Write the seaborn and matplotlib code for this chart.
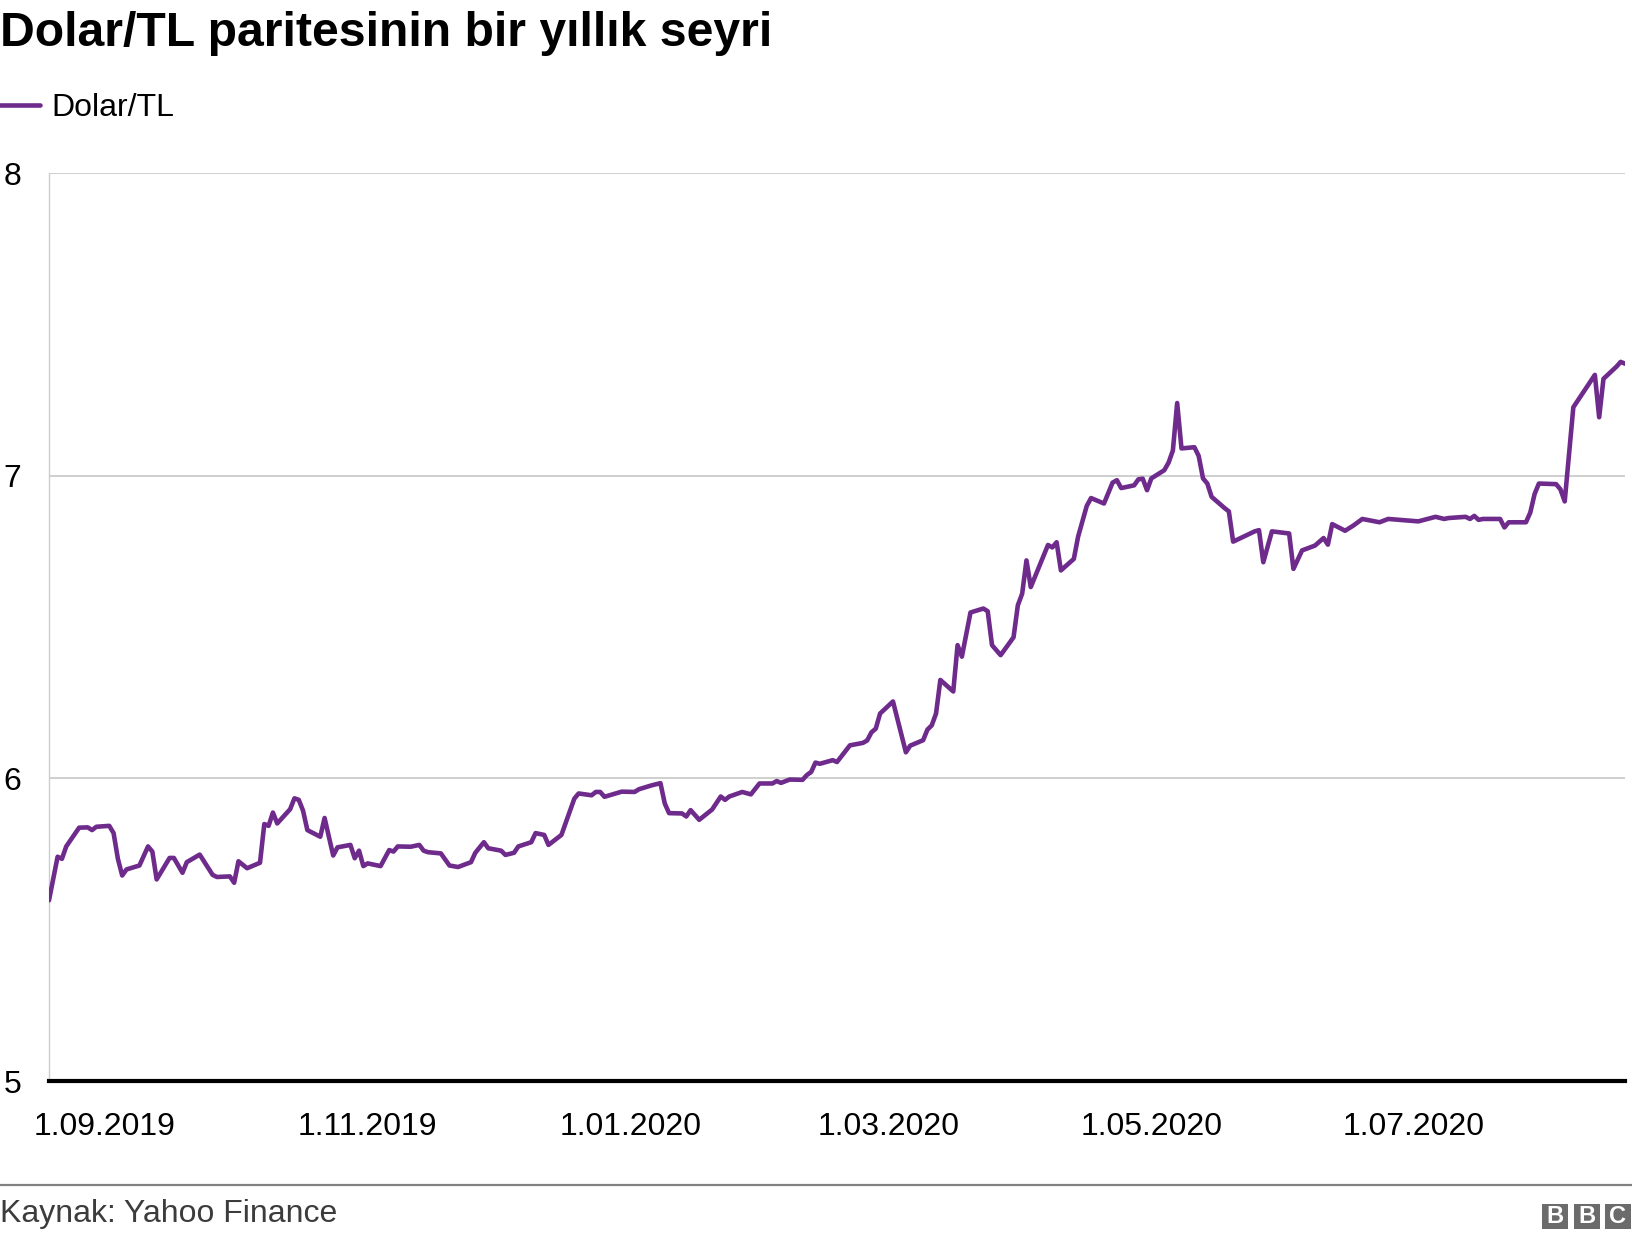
import matplotlib
matplotlib.use("Agg")
import matplotlib.pyplot as plt
from matplotlib.lines import Line2D
from matplotlib.patches import Rectangle
import pandas as pd
import seaborn as sns

# daily close (Dolar/TL, Yahoo Finance)
dates = [
    "2019-08-19", "2019-08-21", "2019-08-22", "2019-08-23", "2019-08-26", "2019-08-28", "2019-08-29", "2019-08-30",
    "2019-09-02", "2019-09-03", "2019-09-04", "2019-09-05", "2019-09-06", "2019-09-09", "2019-09-11", "2019-09-12",
    "2019-09-13", "2019-09-16", "2019-09-17", "2019-09-19", "2019-09-20", "2019-09-23", "2019-09-26", "2019-09-27",
    "2019-09-30", "2019-10-01", "2019-10-02", "2019-10-04", "2019-10-07", "2019-10-08", "2019-10-09", "2019-10-10",
    "2019-10-11", "2019-10-14", "2019-10-15", "2019-10-16", "2019-10-17", "2019-10-18", "2019-10-21", "2019-10-22",
    "2019-10-24", "2019-10-25", "2019-10-28", "2019-10-29", "2019-10-30", "2019-10-31", "2019-11-01", "2019-11-04",
    "2019-11-06", "2019-11-07", "2019-11-08", "2019-11-11", "2019-11-13", "2019-11-14", "2019-11-15", "2019-11-18",
    "2019-11-20", "2019-11-22", "2019-11-25", "2019-11-26", "2019-11-28", "2019-11-29", "2019-12-02", "2019-12-03",
    "2019-12-05", "2019-12-06", "2019-12-09", "2019-12-10", "2019-12-12", "2019-12-13", "2019-12-16", "2019-12-19",
    "2019-12-20", "2019-12-23", "2019-12-24", "2019-12-25", "2019-12-26", "2019-12-30", "2020-01-02", "2020-01-03",
    "2020-01-06", "2020-01-08", "2020-01-09", "2020-01-10", "2020-01-13", "2020-01-14", "2020-01-15", "2020-01-17",
    "2020-01-20", "2020-01-22", "2020-01-23", "2020-01-24", "2020-01-27", "2020-01-29", "2020-01-31", "2020-02-03",
    "2020-02-04", "2020-02-05", "2020-02-07", "2020-02-10", "2020-02-11", "2020-02-12", "2020-02-13", "2020-02-14",
    "2020-02-17", "2020-02-18", "2020-02-21", "2020-02-24", "2020-02-25", "2020-02-26", "2020-02-27", "2020-02-28",
    "2020-03-02", "2020-03-05", "2020-03-06", "2020-03-09", "2020-03-10", "2020-03-11", "2020-03-12", "2020-03-13",
    "2020-03-16", "2020-03-17", "2020-03-18", "2020-03-20", "2020-03-23", "2020-03-24", "2020-03-25", "2020-03-27",
    "2020-03-30", "2020-03-31", "2020-04-01", "2020-04-02", "2020-04-03", "2020-04-07", "2020-04-08", "2020-04-09",
    "2020-04-10", "2020-04-13", "2020-04-14", "2020-04-16", "2020-04-17", "2020-04-20", "2020-04-22", "2020-04-23",
    "2020-04-24", "2020-04-27", "2020-04-28", "2020-04-29", "2020-04-30", "2020-05-01", "2020-05-04", "2020-05-05",
    "2020-05-06", "2020-05-07", "2020-05-08", "2020-05-11", "2020-05-12", "2020-05-13", "2020-05-14", "2020-05-15",
    "2020-05-18", "2020-05-19", "2020-05-20", "2020-05-25", "2020-05-26", "2020-05-27", "2020-05-29", "2020-06-02",
    "2020-06-03", "2020-06-05", "2020-06-08", "2020-06-10", "2020-06-11", "2020-06-12", "2020-06-15", "2020-06-17",
    "2020-06-19", "2020-06-23", "2020-06-25", "2020-07-02", "2020-07-06", "2020-07-08", "2020-07-09", "2020-07-13",
    "2020-07-14", "2020-07-15", "2020-07-16", "2020-07-17", "2020-07-21", "2020-07-22", "2020-07-23", "2020-07-27",
    "2020-07-28", "2020-07-29", "2020-07-30", "2020-08-03", "2020-08-04", "2020-08-05", "2020-08-07", "2020-08-12",
    "2020-08-13", "2020-08-14", "2020-08-17", "2020-08-18", "2020-08-19",
]
usd_try = [
    5.597, 5.741, 5.734, 5.775, 5.837, 5.838, 5.829, 5.840,
    5.843, 5.819, 5.734, 5.679, 5.699, 5.712, 5.775, 5.758,
    5.666, 5.737, 5.737, 5.688, 5.723, 5.748, 5.681, 5.674,
    5.676, 5.655, 5.726, 5.703, 5.721, 5.849, 5.843, 5.887,
    5.851, 5.898, 5.934, 5.929, 5.893, 5.829, 5.807, 5.869,
    5.745, 5.772, 5.780, 5.736, 5.761, 5.710, 5.719, 5.710,
    5.763, 5.758, 5.775, 5.774, 5.780, 5.761, 5.756, 5.752,
    5.712, 5.707, 5.723, 5.754, 5.789, 5.769, 5.761, 5.747,
    5.754, 5.775, 5.789, 5.819, 5.813, 5.780, 5.813, 5.933,
    5.950, 5.944, 5.955, 5.955, 5.939, 5.956, 5.955, 5.964,
    5.977, 5.984, 5.917, 5.885, 5.884, 5.874, 5.895, 5.863,
    5.897, 5.940, 5.929, 5.940, 5.955, 5.947, 5.983, 5.983,
    5.991, 5.985, 5.996, 5.995, 6.011, 6.021, 6.052, 6.048,
    6.060, 6.054, 6.109, 6.117, 6.125, 6.152, 6.164, 6.214,
    6.254, 6.086, 6.108, 6.126, 6.161, 6.175, 6.214, 6.325,
    6.287, 6.440, 6.402, 6.548, 6.561, 6.552, 6.440, 6.407,
    6.466, 6.572, 6.610, 6.720, 6.632, 6.771, 6.763, 6.780,
    6.687, 6.725, 6.799, 6.900, 6.926, 6.908, 6.977, 6.985,
    6.959, 6.968, 6.988, 6.990, 6.952, 6.991, 7.018, 7.043,
    7.083, 7.240, 7.090, 7.094, 7.065, 6.991, 6.974, 6.930,
    6.893, 6.882, 6.782, 6.816, 6.820, 6.714, 6.816, 6.809,
    6.692, 6.753, 6.769, 6.794, 6.772, 6.840, 6.818, 6.836,
    6.857, 6.846, 6.857, 6.849, 6.864, 6.857, 6.860, 6.864,
    6.857, 6.867, 6.854, 6.857, 6.857, 6.829, 6.846, 6.846,
    6.878, 6.939, 6.974, 6.972, 6.955, 6.915, 7.226, 7.333,
    7.193, 7.320, 7.360, 7.376, 7.370,
]
tick_dates = ["2019-09-01", "2019-11-01", "2020-01-01", "2020-03-01", "2020-05-01", "2020-07-01"]
tick_labels = ["1.09.2019", "1.11.2019", "1.01.2020", "1.03.2020", "1.05.2020", "1.07.2020"]
y_ticks = [5, 6, 7, 8]

title = "Dolar/TL paritesinin bir yıllık seyri"
series_name = "Dolar/TL"
source = "Kaynak: Yahoo Finance"

purple = "#6e2b8c"

df = pd.DataFrame({"date": pd.to_datetime(dates), "value": usd_try})

sns.set_style("white")
plt.rcParams["font.family"] = ["Liberation Sans", "DejaVu Sans"]
plt.rcParams["text.color"] = "black"

fig = plt.figure(figsize=(16.32, 12.4), dpi=100)
ax = fig.add_axes([49 / 1632, 1 - 1081 / 1240, (1625 - 49) / 1632, (1081 - 173) / 1240])

sns.lineplot(data=df, x="date", y="value", ax=ax, color=purple, linewidth=3.3,
             label=series_name, zorder=3)

ax.set_xlim(df["date"].iloc[0], df["date"].iloc[-1])
ax.set_ylim(5, 8)
ax.set_yticks(y_ticks)
ax.set_yticklabels([str(t) for t in y_ticks])
ax.set_xticks(pd.to_datetime(tick_dates))
ax.set_xticklabels(tick_labels)
ax.set_xlabel("")
ax.set_ylabel("")

ax.grid(axis="y", color="#cccccc", linewidth=1.3)
ax.grid(axis="x", visible=False)
ax.tick_params(axis="both", length=0, labelsize=23, colors="black")
ax.tick_params(axis="x", pad=22)
ax.tick_params(axis="y", pad=20)

for side in ["top", "right"]:
    ax.spines[side].set_visible(False)
ax.spines["left"].set_color("#cccccc")
ax.spines["left"].set_linewidth(1.0)
ax.spines["bottom"].set_color("black")
ax.spines["bottom"].set_linewidth(3.0)
ax.spines["bottom"].set_zorder(4)

handles, labels = ax.get_legend_handles_labels()
ax.get_legend().remove()
fig.legend(handles, labels, loc="center left", bbox_to_anchor=(0, 1 - 108 / 1240),
           bbox_transform=fig.transFigure, frameon=False, borderpad=0, borderaxespad=0,
           handlelength=1.25, handletextpad=0.35, fontsize=23)

fig.text(0.0, 1 - 34 / 1240, title, fontsize=34.7, fontweight="bold", color="black",
         ha="left", va="center")

# footer
fig.add_artist(Line2D([0, 1], [1 - 1185 / 1240] * 2, transform=fig.transFigure,
                      color="#808080", linewidth=1.6))
fig.text(0.0, 1 - 1214 / 1240, source, fontsize=23, color="#3c3c3c", ha="left", va="center")

for i, letter in enumerate("BBC"):
    x0 = (1542 + i * 31.5) / 1632
    fig.add_artist(Rectangle((x0, 1 - 1229 / 1240), 26 / 1632, 25 / 1240,
                             transform=fig.transFigure, facecolor="#6b6b6b", edgecolor="none"))
    fig.text(x0 + 13 / 1632, 1 - 1216.5 / 1240, letter, fontsize=17, fontweight="bold",
             color="white", ha="center", va="center")

fig.savefig("out.png", dpi=100)
